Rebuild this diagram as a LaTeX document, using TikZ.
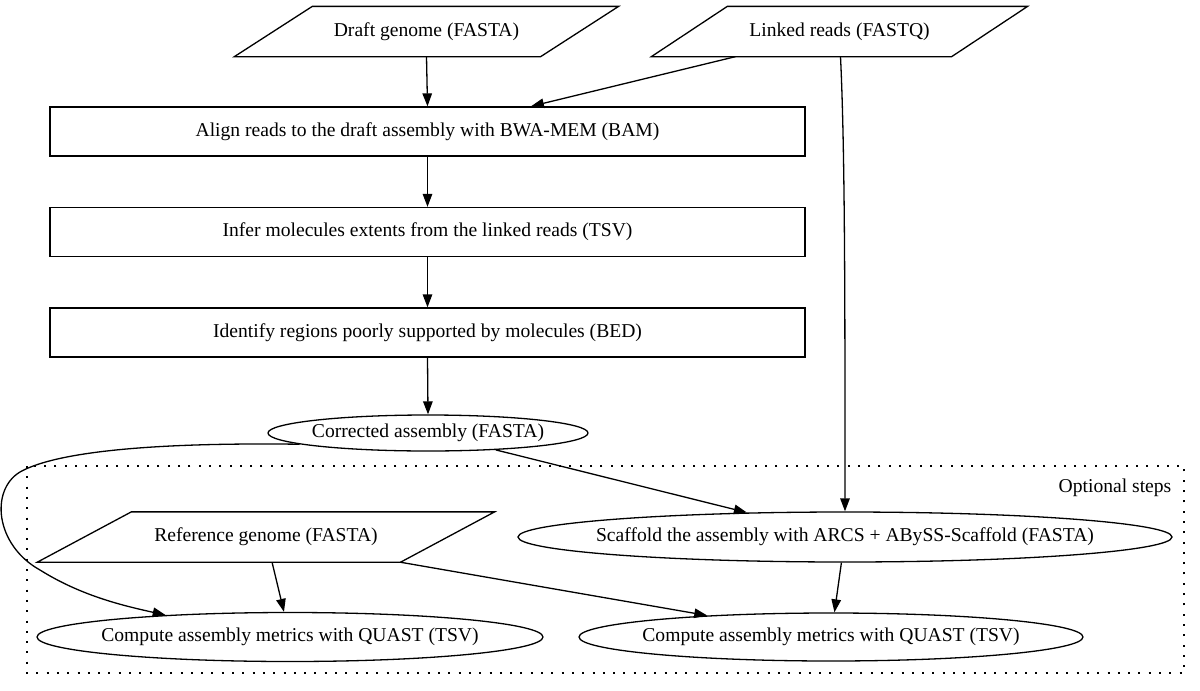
\documentclass[tikz,border=0pt]{standalone}
\usepackage{fontspec}
\setmainfont{Liberation Serif}
\usetikzlibrary{shapes.geometric,arrows.meta,calc}
\begin{document}
\begin{tikzpicture}[x=1pt,y=-1pt, line width=1.3pt,
  every node/.style={font=\fontsize{19.6}{23}\selectfont},
  box/.style={draw, rectangle, minimum width=755pt, minimum height=49pt, inner sep=0},
  oval/.style={draw, ellipse, inner sep=0},
  parabox/.style={rectangle, minimum height=49pt, inner sep=0},
  arr/.style={-{Triangle[length=13pt,width=9.5pt]}},
  cluster/.style={dash pattern=on 2pt off 8.3pt},
]
\useasboundingbox (0,0) rectangle (1200,691);

% cluster
\draw[cluster] (27,466) rectangle (1184,673);
\node[anchor=east, inner sep=0] (opt) at (1172,488) {Optional steps};

% parallelogram inputs
\node[parabox, minimum width=383pt] (draft) at (426.5,31.5) {Draft genome (FASTA)};
\draw ([xshift=78pt]draft.north west) -- (draft.north east) -- ([xshift=-78pt]draft.south east) -- (draft.south west) -- cycle;

\node[parabox, minimum width=375pt] (linked) at (839.5,31.5) {Linked reads (FASTQ)};
\draw ([xshift=76pt]linked.north west) -- (linked.north east) -- ([xshift=-76pt]linked.south east) -- (linked.south west) -- cycle;

\node[parabox, minimum width=456pt] (ref) at (266,537) {Reference genome (FASTA)};
\draw ([xshift=94pt]ref.north west) -- (ref.north east) -- ([xshift=-94pt]ref.south east) -- (ref.south west) -- cycle;

% boxes
\node[box] (align) at (427.5,131.5) {Align reads to the draft assembly with BWA-MEM (BAM)};
\node[box] (infer) at (427.5,232) {Infer molecules extents from the linked reads (TSV)};
\node[box] (ident) at (427.5,332.5) {Identify regions poorly supported by molecules (BED)};

% ellipses
\node[oval, minimum width=320pt, minimum height=36pt] (corr) at (428,433) {\makebox[0pt]{Corrected assembly (FASTA)}};
\node[oval, minimum width=654pt, minimum height=50pt] (scaf) at (845,537) {\makebox[0pt]{Scaffold the assembly with ARCS + ABySS-Scaffold (FASTA)}};
\node[oval, minimum width=506pt, minimum height=49pt] (leftc) at (290,637) {\makebox[0pt]{Compute assembly metrics with QUAST (TSV)}};
\node[oval, minimum width=504pt, minimum height=48pt] (rightc) at (831,637) {\makebox[0pt]{Compute assembly metrics with QUAST (TSV)}};

% edges
\draw[arr] (draft.south) -- (align.north);
\draw[arr] ($(linked.south)+(-104,0)$) -- (align);
\draw[arr] ($(linked.south)+(1,0)$) .. controls (845,150) and (845,300) .. (scaf.north);
\draw[arr] (align.south) -- (infer.north);
\draw[arr] (infer.south) -- (ident.north);
\draw[arr] (ident.south) -- (corr.north);
\draw[arr] (corr) -- (scaf);
\draw[arr] (corr.185) .. controls (130,442) and (50,455) .. (20,472)
  .. controls (-10,490) and (-5,545) .. (40,570)
  .. controls (80,595) and (120,605) .. (leftc.170);
\draw[arr] (ref) -- (leftc);
\draw[arr] ($(ref.south)+(134,0)$) -- (rightc);
\draw[arr] (scaf) -- (rightc);
\end{tikzpicture}
\end{document}
